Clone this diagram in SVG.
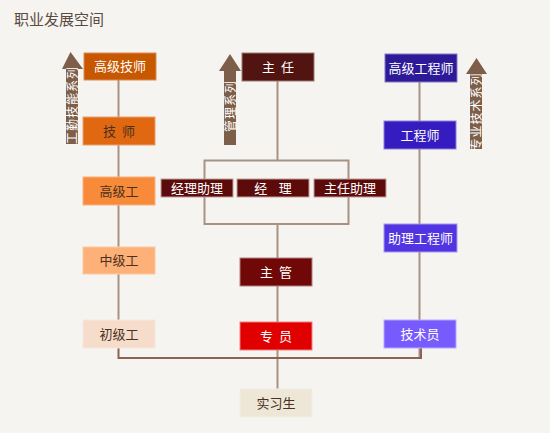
<svg xmlns="http://www.w3.org/2000/svg" width="550" height="433" viewBox="0 0 550 433">
<style>
text{font-family:"Noto Sans CJK SC","Noto Sans",sans-serif;font-size:13px;text-anchor:middle;white-space:pre}
.w{fill:#ffffff}
.d{fill:#4a3020}
.v{stroke:#a89283;stroke-width:2;fill:none}
.h{stroke:#8a6450;stroke-width:2;fill:none}
.arr{fill:#7d5e48}
.at{fill:#ffffff;font-size:12px;letter-spacing:1px}
</style>
<rect width="550" height="433" fill="#f5f4f0"/>
<text x="14" y="25" style="text-anchor:start;font-size:15px;fill:#5a4a40">职业发展空间</text>

<g id="connectors">
<line class="v" x1="118.5" y1="80" x2="118.5" y2="320"/>
<line class="v" x1="277.5" y1="81" x2="277.5" y2="160"/>
<rect class="v" x="204.5" y="160.5" width="144" height="63.5"/>
<line class="v" x1="277.5" y1="224" x2="277.5" y2="389"/>
<line class="v" x1="419.5" y1="82" x2="419.5" y2="358"/>
<polyline class="h" points="118.5,348 118.5,358 421,358 421,348"/>
</g>

<g id="arrow-left">
<polygon class="arr" points="70.5,52 83,69 78,69 78,144 66,144 66,69 62,69"/>
<text class="at" transform="translate(72,105) rotate(-90)" y="4.5">工勤技能系列</text>
</g>
<g id="arrow-mid">
<polygon class="arr" points="230,54 241,71 236,71 236,145 224,145 224,71 219,71"/>
<text class="at" transform="translate(230,106) rotate(-90)" y="4.5">管理系列</text>
</g>
<g id="arrow-right">
<polygon class="arr" points="476.5,58 487,74 482,74 482,149 470,149 470,74 466,74"/>
<text class="at" transform="translate(476,111.5) rotate(-90)" y="4.5">专业技术系列</text>
</g>

<g id="n-gaojijishi"><rect x="84" y="53" width="72" height="27" fill="#c75800" stroke="#d9895a" stroke-width="1"/><text class="w" x="120" y="71">高级技师</text></g>
<g id="n-jishi"><rect x="83" y="117" width="72" height="28" fill="#e06810" stroke="#eba070" stroke-width="1"/><text class="d" x="119" y="136">技  师</text></g>
<g id="n-gaojigong"><rect x="83" y="177" width="72" height="28" fill="#f78b3a" stroke="#fbb07f" stroke-width="1"/><text class="d" x="119" y="196">高级工</text></g>
<g id="n-zhongjigong"><rect x="83" y="247" width="72" height="27" fill="#fdb077" stroke="#fdcaa0" stroke-width="1"/><text class="d" x="119" y="265">中级工</text></g>
<g id="n-chujigong"><rect x="83" y="320" width="72" height="28" fill="#f6dccb" stroke="#f8e6da" stroke-width="1"/><text class="d" x="119" y="339">初级工</text></g>

<g id="n-zhuren"><rect x="242" y="53" width="72" height="28" fill="#521410" stroke="#9c7a70" stroke-width="1"/><text class="w" x="278" y="72">主  任</text></g>
<g id="n-jinglizhuli"><rect x="161" y="179" width="72" height="18" fill="#5c0a0a" stroke="#c0a09a" stroke-width="1"/><text class="w" x="197" y="193">经理助理</text></g>
<g id="n-jingli"><rect x="237" y="179" width="72" height="18" fill="#5c0a0a" stroke="#c0a09a" stroke-width="1"/><text class="w" x="273" y="193">经    理</text></g>
<g id="n-zhurenzhuli"><rect x="314" y="179" width="72" height="18" fill="#5c0a0a" stroke="#c0a09a" stroke-width="1"/><text class="w" x="350" y="193">主任助理</text></g>
<g id="n-zhuguan"><rect x="240" y="258" width="72" height="28" fill="#700808" stroke="#b08080" stroke-width="1"/><text class="w" x="276" y="277">主  管</text></g>
<g id="n-zhuanyuan"><rect x="240" y="322" width="72" height="28" fill="#e00000" stroke="#ec8080" stroke-width="1"/><text class="w" x="276" y="341">专  员</text></g>
<g id="n-shixisheng"><rect x="240" y="389" width="72" height="28" fill="#eee7d7" stroke="#f2ede2" stroke-width="1"/><text class="d" x="276" y="408">实习生</text></g>

<g id="n-gaojigongchengshi"><rect x="385" y="54" width="72" height="28" fill="#2c1a98" stroke="#8878c0" stroke-width="1"/><text class="w" x="421" y="73">高级工程师</text></g>
<g id="n-gongchengshi"><rect x="384" y="121" width="72" height="28" fill="#341cc0" stroke="#9080d8" stroke-width="1"/><text class="w" x="420" y="140">工程师</text></g>
<g id="n-zhuligongchengshi"><rect x="384" y="224" width="73" height="28" fill="#5235e2" stroke="#a898ec" stroke-width="1"/><text class="w" x="420.5" y="243">助理工程师</text></g>
<g id="n-jishuyuan"><rect x="384" y="320" width="72" height="28" fill="#775bfd" stroke="#b8a8fe" stroke-width="1"/><text class="w" x="420" y="339">技术员</text></g>
</svg>
